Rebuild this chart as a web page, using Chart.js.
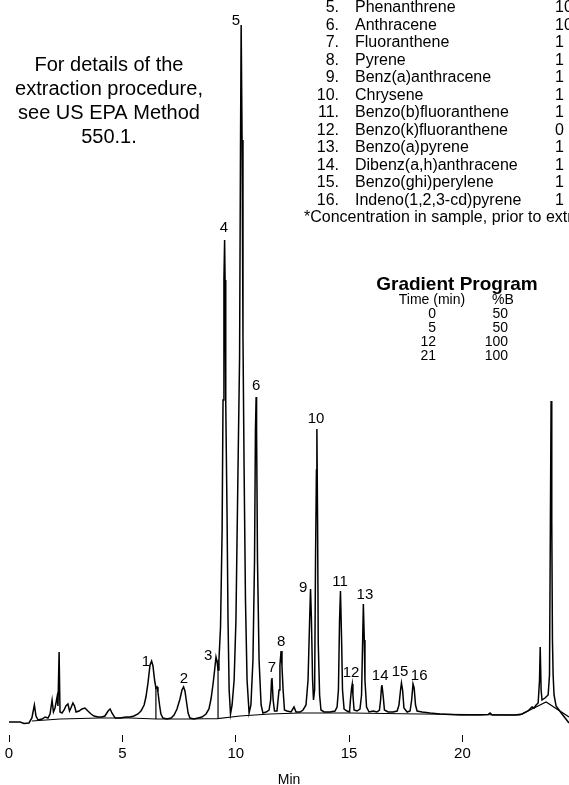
<!DOCTYPE html>
<html>
<head>
<meta charset="utf-8">
<script src="https://cdn.jsdelivr.net/npm/chart.js@4.4.1/dist/chart.umd.min.js"></script>
<style>
  html, body { margin: 0; padding: 0; background: #fff; }
  #wrap { position: relative; width: 569px; height: 785px; }
</style>
</head>
<body>
<div id="wrap"><canvas id="chrom"></canvas></div>
<script>
// Chromatogram trace: retention time (min) and detector signal
const traceTime = [
  0, 0.49, 0.66, 0.88, 1.01, 1.12, 1.19, 1.28, 1.46, 1.59, 1.72, 1.81, 1.90, 1.96, 2.03, 2.12, 2.16, 2.21, 2.25, 2.34,
  2.43, 2.51, 2.60, 2.67, 2.73, 2.82, 2.89, 2.96, 3.09, 3.22, 3.35, 3.48, 3.62, 3.75, 3.93, 4.10, 4.23, 4.37, 4.46, 4.54,
  4.68, 4.90, 5.16, 5.34, 5.51, 5.69, 5.82, 5.96, 6.04, 6.13, 6.22, 6.29, 6.35, 6.42, 6.48, 6.53, 6.57, 6.64, 6.70, 6.79,
  6.97, 7.15, 7.28, 7.41, 7.54, 7.63, 7.70, 7.76, 7.83, 7.90, 7.98, 8.16, 8.34, 8.51, 8.69, 8.82, 8.91, 9.00, 9.07, 9.13,
  9.18, 9.22, 9.26, 9.33, 9.40, 9.44, 9.48, 9.51, 9.53, 9.55, 9.57, 9.62, 9.66, 9.71, 9.77, 9.84, 9.93, 10.01, 10.10, 10.17,
  10.21, 10.24, 10.28, 10.32, 10.37, 10.43, 10.50, 10.59, 10.67, 10.76, 10.83, 10.87, 10.90, 10.92, 10.96, 11.03, 11.12, 11.20, 11.34, 11.47,
  11.54, 11.58, 11.60, 11.65, 11.71, 11.82, 11.91, 11.95, 12.00, 12.04, 12.09, 12.15, 12.26, 12.44, 12.57, 12.66, 12.84, 12.97, 13.10, 13.19,
  13.26, 13.30, 13.34, 13.39, 13.43, 13.48, 13.52, 13.56, 13.58, 13.61, 13.64, 13.70, 13.76, 13.90, 14.16, 14.38, 14.47, 14.53, 14.58, 14.62,
  14.67, 14.71, 14.78, 14.91, 15.02, 15.06, 15.11, 15.14, 15.17, 15.22, 15.35, 15.48, 15.55, 15.59, 15.63, 15.67, 15.70, 15.77, 15.88, 16.06,
  16.23, 16.34, 16.39, 16.43, 16.45, 16.50, 16.56, 16.72, 16.94, 17.12, 17.20, 17.27, 17.31, 17.36, 17.42, 17.56, 17.69, 17.76, 17.82, 17.87,
  17.93, 18.00, 18.22, 18.57, 19.01, 19.89, 20.78, 21.13, 21.22, 21.31, 21.88, 22.32, 22.63, 22.89, 23.07, 23.16, 23.25, 23.34, 23.40, 23.43,
  23.47, 23.51, 23.64, 23.78, 23.84, 23.88, 23.91, 23.94, 23.97, 24.00, 24.04, 24.13, 24.26, 24.39, 24.53, 24.70
];
const traceSignal = [
  13, 13, 11.5, 12, 17, 30, 19, 15, 16, 18, 17, 21, 35, 23, 27, 38, 29, 83, 23, 22,
  25, 29, 31, 24, 27, 32, 29, 23, 24, 26, 27, 24, 21, 19, 18, 18, 19, 24, 26, 22,
  17, 17, 18, 18, 19, 21, 24, 30, 38, 52, 70, 74, 69, 55, 47, 48, 43, 30, 21, 17,
  16, 17, 20, 26, 36, 45, 48, 44, 33, 22, 17, 16, 17, 18, 21, 26, 36, 51, 65, 78,
  73, 65, 75, 108, 205, 335, 455, 495, 455, 378, 332, 215, 115, 45, 21, 30, 55, 115, 265, 377,
  585, 710, 595, 398, 265, 135, 55, 22, 30, 75, 175, 305, 338, 305, 175, 75, 30, 22, 23, 25,
  35, 55, 57, 35, 24, 24, 45, 70, 84, 69, 45, 25, 24, 23, 28, 23, 23, 25, 30, 55,
  115, 146, 115, 55, 35, 45, 175, 265, 306, 215, 92, 40, 25, 23, 23, 24, 28, 45, 115, 144,
  95, 45, 26, 24, 23, 35, 47, 51, 40, 25, 24, 26, 40, 85, 131, 95, 55, 28, 23, 24,
  23, 25, 35, 48, 50, 40, 25, 23, 23, 24, 30, 45, 52, 45, 27, 23, 24, 35, 51, 47,
  30, 24, 23, 22, 21, 20, 20, 20.5, 22, 20, 20, 20, 21, 24, 28, 27, 30, 32, 55, 88,
  45, 35, 37, 40, 60, 215, 334, 215, 95, 60, 40, 29, 25, 21, 17, 12
];

// Integration baseline with its drop lines
const baseTime = [1.01, 2.25, 4.01, 5.34, 6.48, 6.48, 6.48, 7.98, 9.22, 9.22, 9.22, 10.19, 11.51, 12.84, 15.04, 18.13, 22.54, 23.69, 24.70];
const baseSignal = [14, 16, 17, 17, 16, 47, 16, 16, 16.5, 75, 16.5, 19, 21, 22, 22, 21, 20, 33, 18];

// Peak numbers and the point each number is written at
const peakNumbers = ['1', '2', '3', '4', '5', '6', '7', '8', '9', '10', '11', '12', '13', '14', '15', '16'];
const peakLabelTime = [6.04, 7.72, 8.78, 9.48, 10.01, 10.90, 11.60, 12.00, 12.97, 13.54, 14.60, 15.09, 15.70, 16.37, 17.25, 18.09];
const peakLabelSignal = [73, 56, 79, 507, 714, 349, 67, 93, 147, 316, 153, 62, 140, 59, 63, 59];

const xTicks = [0, 5, 10, 15, 20];

// Peak identification list (top of it is cut off in the picture)
const compoundNumbers = ['5.', '6.', '7.', '8.', '9.', '10.', '11.', '12.', '13.', '14.', '15.', '16.'];
const compoundNames = ['Phenanthrene', 'Anthracene', 'Fluoranthene', 'Pyrene', 'Benz(a)anthracene', 'Chrysene',
  'Benzo(b)fluoranthene', 'Benzo(k)fluoranthene', 'Benzo(a)pyrene', 'Dibenz(a,h)anthracene',
  'Benzo(ghi)perylene', 'Indeno(1,2,3-cd)pyrene'];
const compoundConc = ['10', '10', '1', '1', '1', '1', '1', '0', '1', '1', '1', '1'];
const footnote = '*Concentration in sample, prior to extraction';

const noteLines = ['For details of the', 'extraction procedure,', 'see US EPA Method', '550.1.'];

const gradientTime = ['0', '5', '12', '21'];
const gradientB = ['50', '50', '100', '100'];

const FONT = '"Liberation Sans", Arial, Helvetica, sans-serif';

const toPoints = (xs, ys) => xs.map((x, i) => ({ x: x, y: ys[i] }));

// Draws the peak numbers and the text blocks
const annotations = {
  id: 'annotations',
  afterDatasetsDraw(chart) {
    const ctx = chart.ctx;
    const xs = chart.scales.x;
    const ys = chart.scales.y;
    ctx.save();
    ctx.fillStyle = '#000';
    ctx.textBaseline = 'middle';

    ctx.font = '15px ' + FONT;
    ctx.textAlign = 'center';
    peakNumbers.forEach((n, i) => {
      ctx.fillText(n, xs.getPixelForValue(peakLabelTime[i]), ys.getPixelForValue(peakLabelSignal[i]));
    });

    ctx.font = '20px ' + FONT;
    noteLines.forEach((line, i) => ctx.fillText(line, 109, 65 + i * 24));

    ctx.font = '16px ' + FONT;
    compoundNames.forEach((name, i) => {
      const y = 8 + i * 17.5;
      ctx.textAlign = 'right';
      ctx.fillText(compoundNumbers[i], 339, y);
      ctx.textAlign = 'left';
      ctx.fillText(name, 355, y);
      ctx.fillText(compoundConc[i], 555, y);
    });
    ctx.textAlign = 'left';
    ctx.fillText(footnote, 304, 218);

    // Gradient program table
    ctx.font = 'bold 19px ' + FONT;
    ctx.textAlign = 'center';
    ctx.fillText('Gradient Program', 457, 285);
    ctx.font = '14px ' + FONT;
    ctx.fillText('Time (min)', 432, 300);
    ctx.fillText('%B', 503, 300);
    ctx.textAlign = 'right';
    gradientTime.forEach((t, i) => {
      const y = 314 + i * 14;
      ctx.fillText(t, 436, y);
      ctx.fillText(gradientB[i], 508, y);
    });
    ctx.restore();
  }
};

new Chart(document.getElementById('chrom'), {
  type: 'line',
  data: {
    datasets: [
      {
        label: 'Signal',
        data: toPoints(traceTime, traceSignal),
        borderColor: '#000',
        borderWidth: 1.5,
        pointRadius: 0,
        tension: 0,
        fill: false
      },
      {
        label: 'Baseline',
        data: toPoints(baseTime, baseSignal),
        borderColor: '#000',
        borderWidth: 1.2,
        pointRadius: 0,
        tension: 0,
        fill: false
      }
    ]
  },
  options: {
    responsive: true,
    maintainAspectRatio: false,
    animation: false,
    layout: { padding: { left: 9, right: 0, top: 0, bottom: 0 } },
    plugins: {
      legend: { display: false },
      tooltip: { enabled: false }
    },
    scales: {
      x: {
        type: 'linear',
        min: 0,
        max: 24.7,
        afterBuildTicks: (scale) => { scale.ticks = xTicks.map(v => ({ value: v })); },
        afterFit: (scale) => { scale.height = 50; },
        ticks: { color: '#000', font: { family: FONT, size: 15 }, padding: 3, maxRotation: 0 },
        grid: { drawOnChartArea: false, color: '#000', tickLength: 7, lineWidth: 1 },
        border: { display: false },
        title: { display: true, text: 'Min', color: '#000', font: { family: FONT, size: 14 }, padding: { top: 0, bottom: -4 } }
      },
      y: {
        display: false,
        min: 0,
        max: 735
      }
    }
  },
  plugins: [annotations]
});
</script>
</body>
</html>
